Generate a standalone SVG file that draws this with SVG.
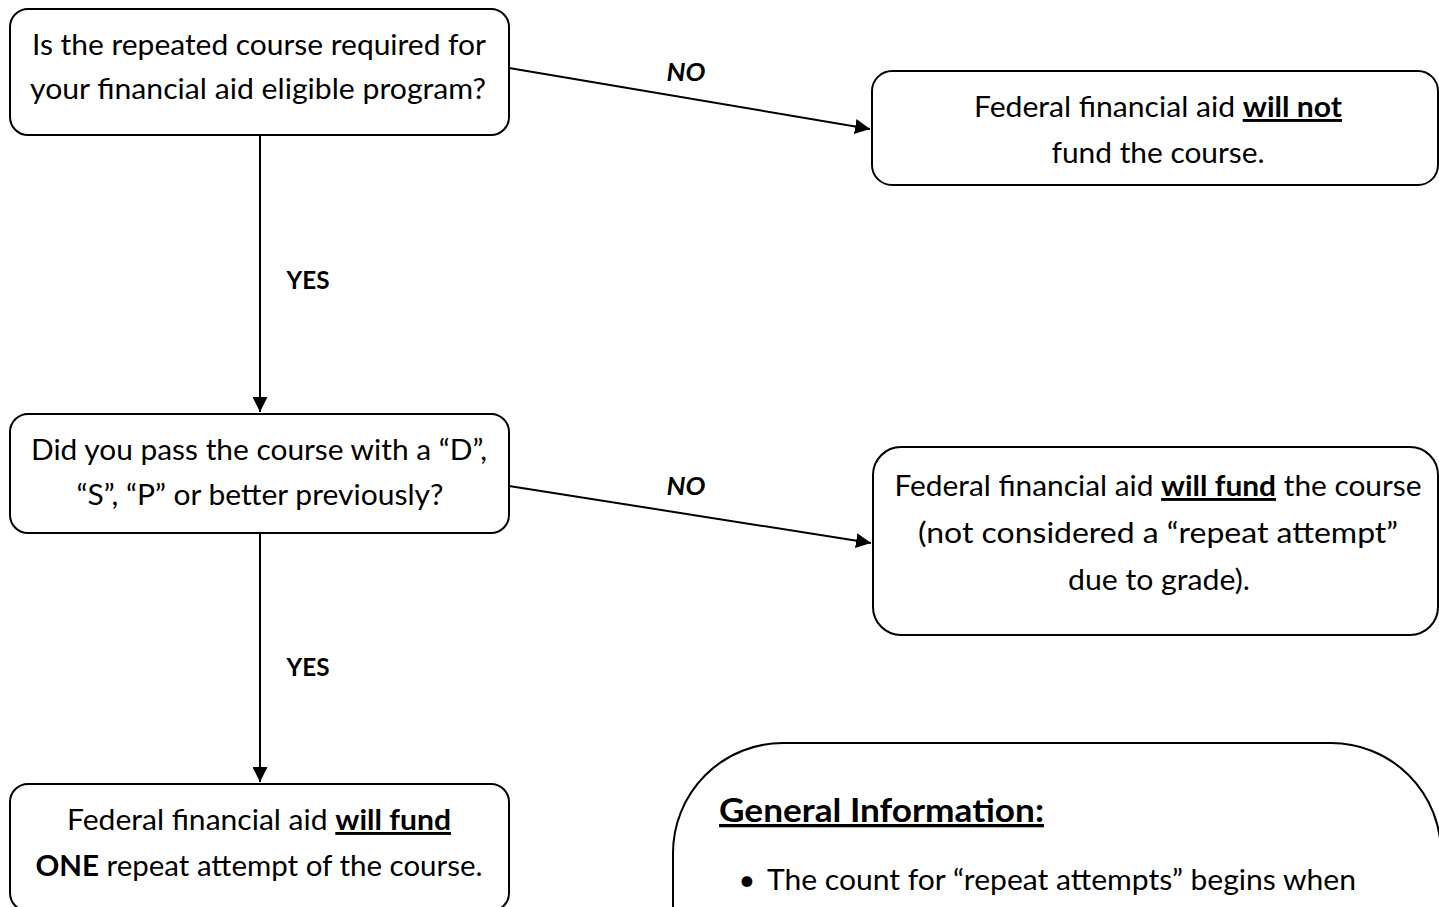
<svg xmlns="http://www.w3.org/2000/svg" width="1439" height="907" viewBox="0 0 1439 907">
  <style>
    .box { fill: #ffffff; stroke: #000000; stroke-width: 2; }
    .t { font-family: Lato, "Noto Sans", "Liberation Sans", sans-serif; font-size: 29px; fill: #000000; text-anchor: middle; }
    .b { font-weight: bold; }
    .u { text-decoration: underline; }
    .lbl { font-family: Lato, "Noto Sans", "Liberation Sans", sans-serif; font-size: 25px; font-weight: bold; fill: #000000; text-anchor: middle; }
    .conn { stroke: #000000; stroke-width: 2; fill: none; marker-end: url(#arrow); }
  </style>
  <defs>
    <marker id="arrow" markerUnits="userSpaceOnUse" markerWidth="16" markerHeight="15" refX="15" refY="7.5" orient="auto">
      <path d="M0,0 L15,7.5 L0,15 Z" fill="#000000"/>
    </marker>
  </defs>
  <rect width="1439" height="907" fill="#ffffff"/>

  <g id="connectors">
    <line class="conn" x1="509" y1="68" x2="870" y2="129"/>
    <line class="conn" x1="260" y1="135" x2="260" y2="412"/>
    <line class="conn" x1="509" y1="486" x2="871" y2="543"/>
    <line class="conn" x1="260" y1="533" x2="260" y2="782"/>
    <text class="lbl" x="686" y="81" font-style="italic" textLength="39" lengthAdjust="spacingAndGlyphs">NO</text>
    <text class="lbl" x="308" y="289" textLength="43" lengthAdjust="spacingAndGlyphs">YES</text>
    <text class="lbl" x="686" y="495" font-style="italic" textLength="39" lengthAdjust="spacingAndGlyphs">NO</text>
    <text class="lbl" x="308" y="676" textLength="43" lengthAdjust="spacingAndGlyphs">YES</text>
  </g>

  <g id="q1">
    <rect class="box" x="10" y="9" width="499" height="126" rx="18"/>
    <text class="t" x="259" y="55" textLength="454" lengthAdjust="spacingAndGlyphs">Is the repeated course required for</text>
    <text class="t" x="258" y="99" textLength="456" lengthAdjust="spacingAndGlyphs">your financial aid eligible program?</text>
  </g>

  <g id="no1">
    <rect class="box" x="872" y="71" width="566" height="114" rx="20"/>
    <text class="t" x="1158" y="117" textLength="368" lengthAdjust="spacingAndGlyphs">Federal financial aid <tspan class="b u">will not</tspan></text>
    <text class="t" x="1158" y="163" textLength="213" lengthAdjust="spacingAndGlyphs">fund the course.</text>
  </g>

  <g id="q2">
    <rect class="box" x="10" y="414" width="499" height="119" rx="18"/>
    <text class="t" x="259" y="460" textLength="456" lengthAdjust="spacingAndGlyphs">Did you pass the course with a “D”,</text>
    <text class="t" x="260" y="505" textLength="367" lengthAdjust="spacingAndGlyphs">“S”, “P” or better previously?</text>
  </g>

  <g id="no2">
    <rect class="box" x="873" y="447" width="565" height="188" rx="28"/>
    <text class="t" x="1158" y="496" textLength="527" lengthAdjust="spacingAndGlyphs">Federal financial aid <tspan class="b u">will fund</tspan> the course</text>
    <text class="t" x="1158" y="543" textLength="480" lengthAdjust="spacingAndGlyphs">(not considered a “repeat attempt”</text>
    <text class="t" x="1159" y="590" textLength="182" lengthAdjust="spacingAndGlyphs">due to grade).</text>
  </g>

  <g id="yes2">
    <rect class="box" x="10" y="784" width="499" height="127" rx="18"/>
    <text class="t" x="259" y="830" textLength="384" lengthAdjust="spacingAndGlyphs">Federal financial aid <tspan class="b u">will fund</tspan></text>
    <text class="t" x="259" y="876" textLength="447" lengthAdjust="spacingAndGlyphs"><tspan class="b">ONE</tspan> repeat attempt of the course.</text>
  </g>

  <g id="info">
    <rect class="box" x="673" y="743" width="768" height="300" rx="110"/>
    <text class="t b u" x="719" y="822" style="text-anchor:start;font-size:33px" textLength="325" lengthAdjust="spacingAndGlyphs">General Information:</text>
    <text class="t" x="747" y="890">•</text>
    <text class="t" x="767" y="890" style="text-anchor:start" textLength="589" lengthAdjust="spacingAndGlyphs">The count for “repeat attempts” begins when</text>
  </g>
</svg>
